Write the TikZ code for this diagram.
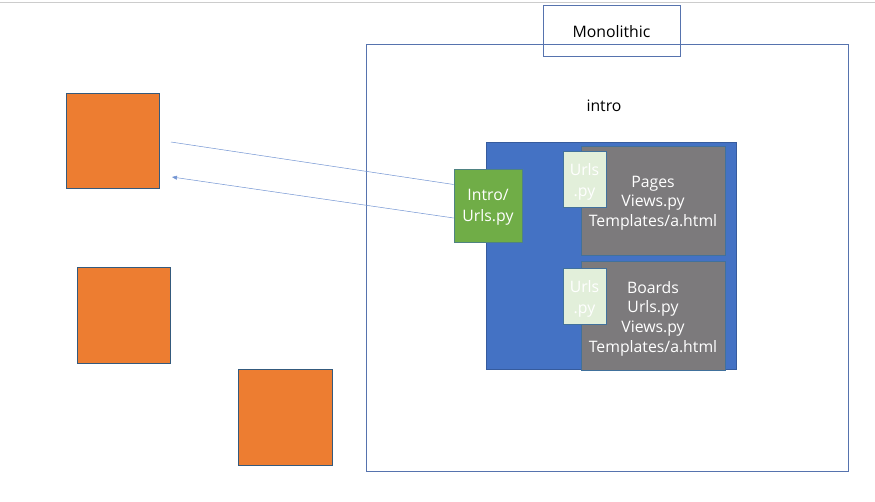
\documentclass[tikz,border=0pt]{standalone}
\usepackage{fontspec}
\setmainfont{Open Sans}
\usetikzlibrary{arrows.meta}
\definecolor{obox}{HTML}{ED7D31}
\definecolor{bluefill}{HTML}{4472C4}
\definecolor{grayfill}{HTML}{7C7A7C}
\definecolor{greenfill}{HTML}{70AD47}
\definecolor{lgreen}{HTML}{E2EFDA}
\definecolor{edge}{HTML}{41719C}
\definecolor{frame}{HTML}{5673AE}
\tikzset{
  px/.style={x=1pt,y=-1pt},
  orangebox/.style={draw=edge!80!black,fill=obox,line width=0.6pt},
  txt/.style={font=\fontsize{15.8}{19.7}\selectfont,align=center,inner sep=0pt},
  conn/.style={draw=bluefill!75,line width=0.5pt}
}
\begin{document}
\begin{tikzpicture}[px]
\useasboundingbox (0,0) rectangle (875,501);
\fill[white] (0,0) rectangle (875,501);
\draw[gray!40,line width=1pt] (0,2.5) -- (875,2.5);
% big container
\node[draw=frame,line width=0.7pt,minimum width=482pt,minimum height=427pt,inner sep=0pt] (mono) at (607,257.5) {};
\node[draw=frame,line width=0.7pt,minimum width=137pt,minimum height=51pt,inner sep=0pt] (title) at (611.5,30.5) {};
\node[txt,text=black] (titletxt) at (611.5,32) {Monolithic};
\node[txt,text=black] (intro) at (604,106) {intro};
% blue app area
\node[fill=bluefill,draw=bluefill!80!black,line width=0.6pt,minimum width=250pt,minimum height=227pt,inner sep=0pt] (app) at (611,255.5) {};
% pages
\node[fill=grayfill,draw=edge,line width=0.6pt,minimum width=144pt,minimum height=109pt,inner sep=0pt] (pages) at (653,200.5) {};
\node[txt,text=white] (pagestxt) at (653,203) {Pages\\Views.py\\Templates/a.html};
\node[fill=grayfill,draw=edge,line width=0.6pt,minimum width=144pt,minimum height=109pt,inner sep=0pt] (boards) at (653,315.5) {};
\node[txt,text=white] (boardstxt) at (653,318.5) {Boards\\Urls.py\\Views.py\\Templates/a.html};
% urls small boxes
\node[fill=lgreen,draw=edge,line width=0.6pt,minimum width=43pt,minimum height=56pt,inner sep=0pt] (urls1) at (584.5,179) {};
\node[txt,text=white,font=\fontsize{15.8}{21.5}\selectfont] (urls1txt) at (584.5,182) {Urls\\.py};
\node[fill=lgreen,draw=edge,line width=0.6pt,minimum width=43pt,minimum height=56pt,inner sep=0pt] (urls2) at (584.5,296) {};
\node[txt,text=white,font=\fontsize{15.8}{21.5}\selectfont] (urls2txt) at (584.5,299) {Urls\\.py};
% intro urls
\node[fill=greenfill,draw=edge!70!greenfill,line width=0.6pt,minimum width=68pt,minimum height=73pt,inner sep=0pt] (introurls) at (488,205.5) {};
\node[txt,text=white,font=\fontsize{15.8}{21}\selectfont] (introtxt) at (488,207.5) {Intro/\\Urls.py};
% orange squares
\node[orangebox,minimum width=93pt,minimum height=95pt,inner sep=0pt] (o1) at (112.5,140.5) {};
\node[orangebox,minimum width=93pt,minimum height=96pt,inner sep=0pt] (o2) at (123.5,315) {};
\node[orangebox,minimum width=94pt,minimum height=96pt,inner sep=0pt] (o3) at (285,417) {};
% connectors
\coordinate (a1s) at (171,142);
\coordinate (a2e) at (172,177);
\draw[conn] (a1s) -- (introurls.west |- 0,184.5);
\draw[conn,-{Triangle[length=5pt,width=4pt]}] (introurls.west |- 0,218) -- (a2e);
\end{tikzpicture}
\end{document}
